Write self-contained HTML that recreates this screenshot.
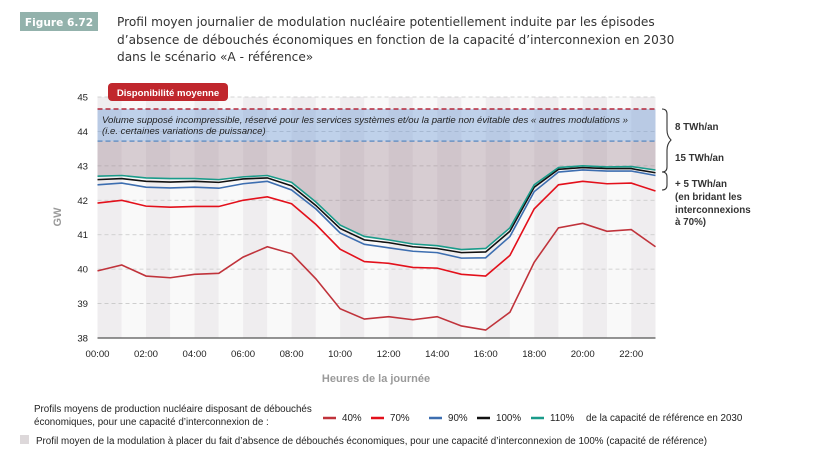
<!DOCTYPE html>
<html><head><meta charset="utf-8"><style>
body{margin:0;background:#fff;}
svg{display:block;font-family:"Liberation Sans",sans-serif;}
</style></head><body>
<svg id="chart" width="817" height="467" viewBox="0 0 817 467" xmlns="http://www.w3.org/2000/svg">
<rect x="20" y="12" width="78" height="19" fill="#93b2ac"/>
<text x="59" y="26" text-anchor="middle" fill="#fff" font-weight="bold" font-size="10.6" font-family="DejaVu Sans,sans-serif">Figure 6.72</text>
<g font-family="DejaVu Sans,sans-serif" font-size="12.15" fill="#333">
<text x="117" y="26">Profil moyen journalier de modulation nucléaire potentiellement induite par les épisodes</text>
<text x="117" y="44">d’absence de débouchés économiques en fonction de la capacité d’interconnexion en 2030</text>
<text x="117" y="61">dans le scénario «A - référence»</text>
</g>
<g id="stripes"></g>
<g id="grid"></g>
<path id="modArea" fill="rgba(130,95,112,0.28)"/>
<rect id="blueBand" fill="rgba(120,160,215,0.45)"/>
<line id="redDash" stroke="#b5283a" stroke-width="1.5" stroke-dasharray="5,3"/>
<line id="blueDash" stroke="#6b93c4" stroke-width="1.5" stroke-dasharray="5,3"/>
<g id="series"></g>
<g id="axes"></g>
<g font-style="italic" font-size="9.6" fill="#222">
<text x="102" y="123">Volume supposé incompressible, réservé pour les services systèmes et/ou la partie non évitable des « autres modulations »</text>
<text x="102" y="134">(i.e. certaines variations de puissance)</text>
</g>
<rect x="108" y="83" width="120" height="18" rx="4" fill="#c0272d"/>
<text x="168" y="96" text-anchor="middle" fill="#fff" font-weight="bold" font-size="9.6">Disponibilité moyenne</text>
<g fill="none" stroke="#333" stroke-width="1.1">
<path d="M662,109 q5,0 5,5 v16 q0,6 4,10 q-4,4 -4,10"/>
<path d="M667,150 v17 q0,5 -5,5"/>
<path d="M662,172 q5,0 5,5 v8 q0,5 -5,5"/>
</g>
<g font-size="9.8" font-weight="bold" fill="#333">
<text x="675" y="130">8 TWh/an</text>
<text x="675" y="161">15 TWh/an</text>
<text x="675" y="187">+ 5 TWh/an</text>
<text x="675" y="200">(en bridant les</text>
<text x="675" y="213">interconnexions</text>
<text x="675" y="225">à 70%)</text>
</g>
<text x="376" y="382" text-anchor="middle" font-size="11" font-weight="bold" fill="#9a9a9a">Heures de la journée</text>
<text x="0" y="0" transform="translate(61,217) rotate(-90)" text-anchor="middle" font-size="11" font-weight="bold" fill="#9a9a9a">GW</text>
<g font-size="9.8" fill="#222">
<text x="34" y="412">Profils moyens de production nucléaire disposant de débouchés</text>
<text x="34" y="425">économiques, pour une capacité d’interconnexion de :</text>
<g id="legendItems"></g>
<text x="586" y="421">de la capacité de référence en 2030</text>
<rect x="20" y="435" width="9" height="9" fill="#ddd8da"/>
<text x="36" y="444">Profil moyen de la modulation à placer du fait d’absence de débouchés économiques, pour une capacité d’interconnexion de 100% (capacité de référence)</text>
</g>
</svg>
<script>
const hours = [0,1,2,3,4,5,6,7,8,9,10,11,12,13,14,15,16,17,18,19,20,21,22,23];
const xTickLabels = ["00:00","02:00","04:00","06:00","08:00","10:00","12:00","14:00","16:00","18:00","20:00","22:00"];
const yTicks = [38,39,40,41,42,43,44,45];
const seriesNames = ["40%","70%","90%","100%","110%"];
const seriesColors = ["#c0333b","#e3101b","#3d6eb0","#111111","#1a9b8a"];
const s40 = [39.95,40.12,39.8,39.75,39.85,39.88,40.35,40.65,40.45,39.72,38.85,38.55,38.62,38.53,38.62,38.35,38.23,38.75,40.2,41.2,41.33,41.1,41.15,40.65];
const s70 = [41.92,42.0,41.83,41.8,41.82,41.82,42.0,42.1,41.9,41.3,40.58,40.22,40.17,40.05,40.03,39.85,39.8,40.4,41.75,42.45,42.55,42.48,42.5,42.27];
const s90 = [42.45,42.5,42.38,42.36,42.38,42.35,42.48,42.55,42.3,41.75,41.05,40.72,40.62,40.52,40.48,40.32,40.33,40.95,42.25,42.82,42.88,42.85,42.85,42.72];
const s100 = [42.6,42.63,42.55,42.53,42.55,42.52,42.62,42.65,42.42,41.85,41.18,40.85,40.77,40.65,40.6,40.48,40.5,41.1,42.38,42.9,42.95,42.92,42.92,42.8];
const s110 = [42.7,42.72,42.65,42.63,42.63,42.6,42.68,42.72,42.52,41.95,41.28,40.95,40.85,40.73,40.68,40.57,40.6,41.2,42.45,42.95,43.0,42.97,42.98,42.88];
const avgAvailability = 44.65;
const incompressibleLimit = 43.72;

const NS="http://www.w3.org/2000/svg";
const X0=97.5, X1=655.5, Y0=338, Y1=97;
const xS = h => X0 + (h-0)/(23-0)*(X1-X0);
const yS = v => Y0 - (v-38)/(45-38)*(Y0-Y1);
function mk(tag, parent){const e=document.createElementNS(NS,tag);document.getElementById(parent).appendChild(e);return e;}

for(let h=0;h<23;h++){
  const r=mk('rect','stripes');
  
  
  r.setAttribute('x',xS(h));r.setAttribute('y',Y1);
  r.setAttribute('width',xS(h+1)-xS(h));r.setAttribute('height',Y0-Y1);
  r.setAttribute('fill',h%2===0?'#efedef':'#f9f9f9');
}
yTicks.forEach(t=>{
  if(t===38) return;
  const l=mk('line','grid');
  
  
  l.setAttribute('x1',X0);l.setAttribute('x2',X1);l.setAttribute('y1',yS(t));l.setAttribute('y2',yS(t));
  l.setAttribute('stroke','#c8c8c8');l.setAttribute('stroke-dasharray','4,3');l.setAttribute('stroke-width','0.8');
});
let d='M'+xS(0)+','+yS(incompressibleLimit)+' L'+xS(23)+','+yS(incompressibleLimit);
for(let i=hours.length-1;i>=0;i--) d+=' L'+xS(hours[i])+','+yS(s110[i]);
document.getElementById('modArea').setAttribute('d',d+' Z');
const bb=document.getElementById('blueBand');
bb.setAttribute('x',X0);bb.setAttribute('width',X1-X0);
bb.setAttribute('y',yS(avgAvailability));bb.setAttribute('height',yS(incompressibleLimit)-yS(avgAvailability));
[['redDash',avgAvailability],['blueDash',incompressibleLimit]].forEach(([id,v])=>{
  const l=document.getElementById(id);
  l.setAttribute('x1',X0);l.setAttribute('x2',X1);l.setAttribute('y1',yS(v));l.setAttribute('y2',yS(v));
});
const allSeries=[s40,s70,s90,s100,s110];
allSeries.forEach((s,k)=>{
  const p=mk('polyline','series');
  
  
  p.setAttribute('points',s.map((v,i)=>xS(hours[i])+','+yS(v)).join(' '));
  p.setAttribute('fill','none');p.setAttribute('stroke',seriesColors[k]);p.setAttribute('stroke-width','1.6');
});
const ax=mk('line','axes');


ax.setAttribute('x1',X0);ax.setAttribute('x2',X1);ax.setAttribute('y1',Y0);ax.setAttribute('y2',Y0);
ax.setAttribute('stroke','#555');ax.setAttribute('stroke-width','1.3');
yTicks.forEach(t=>{
  const tx=mk('text','axes');
  
  
  tx.setAttribute('x',88);tx.setAttribute('y',yS(t)+3.5);tx.setAttribute('text-anchor','end');
  tx.setAttribute('font-size','9.6');tx.setAttribute('fill','#222');tx.textContent=t;
});
xTickLabels.forEach((lab,i)=>{
  const tx=mk('text','axes');
  
  
  tx.setAttribute('x',xS(i*2));tx.setAttribute('y',357);tx.setAttribute('text-anchor','middle');
  tx.setAttribute('font-size','9.6');tx.setAttribute('fill','#222');tx.textContent=lab;
});
const legX=[323,371,429,477,531];
seriesNames.forEach((n,k)=>{
  const l=mk('line','legendItems');
  
  
  l.setAttribute('x1',legX[k]);l.setAttribute('x2',legX[k]+13);l.setAttribute('y1',418);l.setAttribute('y2',418);
  l.setAttribute('stroke',seriesColors[k]);l.setAttribute('stroke-width','2.5');
  const t=mk('text','legendItems');
  
  
  t.setAttribute('x',legX[k]+19);t.setAttribute('y',421);t.textContent=n;
});
</script>
</body></html>
